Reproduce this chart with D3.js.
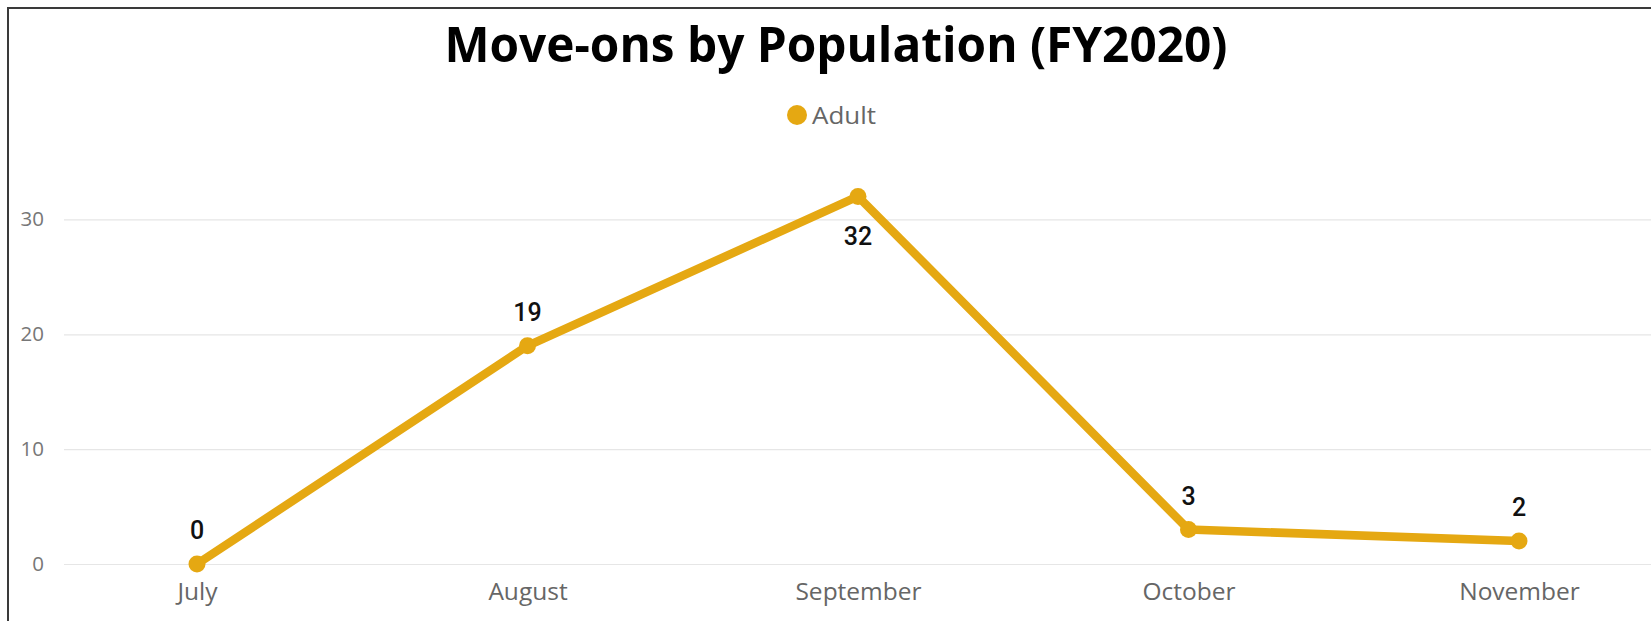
<!DOCTYPE html>
<html>
<head>
<meta charset="utf-8">
<script src="https://cdn.jsdelivr.net/npm/d3@7"></script>
<style>
    body { margin: 0; background: #fff; }
    svg { display: block; }
</style>
</head>
<body>
<div id="viz"></div>
<script>
const months = ['July', 'August', 'September', 'October', 'November'];
const adult = [0, 19, 32, 3, 2];
const yTicks = [0, 10, 20, 30];
const seriesName = 'Adult';
const chartTitle = 'Move-ons by Population (FY2020)';

function buildChart(containerId) {
    const width = 1651;
    const height = 621;

    const margin = {
        top: 162,
        left: 64
    }

    const innerWidth = width - margin.left;
    const innerHeight = 564 - margin.top;
    const lineColor = '#E5A812';

    const svg = d3.select(containerId)
        .append('svg')
        .attr('width', width)
        .attr('height', height);

    // frame (right / bottom edges are cut off in the original)
    svg.append('rect')
        .attr('x', 8)
        .attr('y', 8)
        .attr('width', width + 20)
        .attr('height', height + 20)
        .attr('fill', 'none')
        .attr('stroke', '#3a3a3a')
        .attr('stroke-width', 2);

    svg.append('text')
        .attr('x', 836)
        .attr('y', 62)
        .attr('text-anchor', 'middle')
        .attr('font-family', '"Open Sans", "Noto Sans", sans-serif')
        .attr('font-weight', 700)
        .attr('font-size', 49)
        .attr('textLength', 783)
        .attr('lengthAdjust', 'spacingAndGlyphs')
        .attr('fill', '#000')
        .text(chartTitle);

    // legend
    const legend = svg.append('g').attr('transform', 'translate(797,115)');
    legend.append('circle')
        .attr('r', 10)
        .attr('fill', lineColor);
    legend.append('text')
        .attr('x', 15)
        .attr('y', 8.5)
        .attr('font-family', '"Open Sans", "Noto Sans", sans-serif')
        .attr('font-size', 24)
        .attr('textLength', 64)
        .attr('lengthAdjust', 'spacingAndGlyphs')
        .attr('fill', '#666')
        .text(seriesName);

    const g = svg.append('g')
        .attr('transform', `translate(${margin.left},${margin.top})`);

    const x = d3.scalePoint()
        .domain(months)
        .range([197 - margin.left, 1519 - margin.left]);

    const y = d3.scaleLinear()
        .domain([0, 35])
        .range([innerHeight, 0]);

    const yAxis = d3.axisLeft(y)
        .tickValues(yTicks)
        .tickSize(-innerWidth)
        .tickPadding(20);

    const yg = g.append('g')
        .attr('class', 'y-axis')
        .call(yAxis);
    yg.select('.domain').remove();
    yg.selectAll('line')
        .attr('stroke', '#e6e6e6')
        .attr('stroke-width', 1.2);
    yg.selectAll('text')
        .attr('font-family', '"Open Sans", "Noto Sans", sans-serif')
        .attr('font-size', 20.5)
        .attr('fill', '#777');

    const xAxis = d3.axisBottom(x)
        .tickSize(0)
        .tickPadding(19);

    const xg = g.append('g')
        .attr('class', 'x-axis')
        .attr('transform', `translate(0,${innerHeight})`)
        .call(xAxis);
    xg.select('.domain').remove();
    xg.selectAll('text')
        .attr('font-family', '"Open Sans", "Noto Sans", sans-serif')
        .attr('font-size', 24.5)
        .attr('fill', '#666');

    const data = months.map((m, i) => ({ month: m, value: adult[i] }));

    const line = d3.line()
        .x(d => x(d.month))
        .y(d => y(d.value))
        .curve(d3.curveLinear);

    g.append('path')
        .datum(data)
        .attr('fill', 'none')
        .attr('stroke', lineColor)
        .attr('stroke-width', 8.5)
        .attr('stroke-linejoin', 'round')
        .attr('d', line);

    g.selectAll('.dot')
        .data(data)
        .enter()
        .append('circle')
        .attr('class', 'dot')
        .attr('cx', d => x(d.month))
        .attr('cy', d => y(d.value))
        .attr('r', 8.5)
        .attr('fill', lineColor);

    const maxVal = d3.max(adult);
    g.selectAll('.label')
        .data(data)
        .enter()
        .append('text')
        .attr('class', 'label')
        .attr('x', d => x(d.month))
        .attr('y', d => d.value === maxVal ? y(d.value) + 49 : y(d.value) - 25)
        .attr('text-anchor', 'middle')
        .attr('font-family', 'Roboto, "Liberation Sans", sans-serif')
        .attr('font-weight', 500)
        .attr('font-size', 25)
        .attr('fill', '#111')
        .text(d => d.value);
}

buildChart('#viz');
</script>
</body>
</html>
